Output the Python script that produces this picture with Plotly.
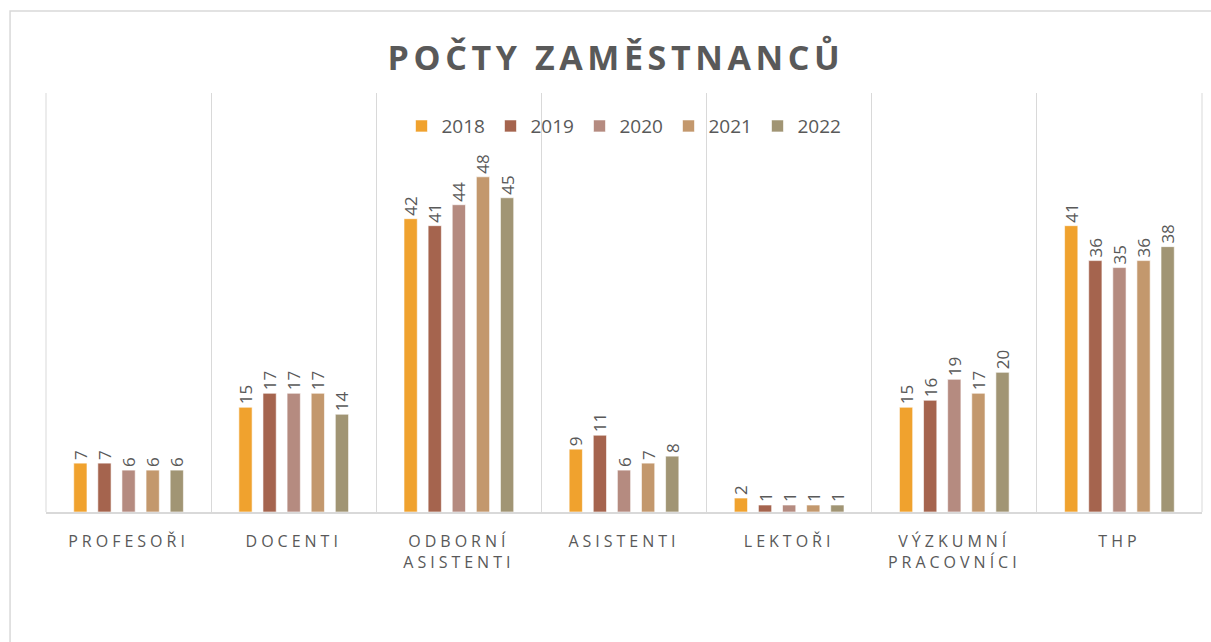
import plotly.graph_objects as go

categories = ["PROFESOŘI", "DOCENTI", "ODBORNÍ<br>ASISTENTI", "ASISTENTI", "LEKTOŘI",
              "VÝZKUMNÍ<br>PRACOVNÍCI", "THP"]
years = ["2018", "2019", "2020", "2021", "2022"]
v2018 = [7, 15, 42, 9, 2, 15, 41]
v2019 = [7, 17, 41, 11, 1, 16, 36]
v2020 = [6, 17, 44, 6, 1, 19, 35]
v2021 = [6, 17, 48, 7, 1, 17, 36]
v2022 = [6, 14, 45, 8, 1, 20, 38]
series = [v2018, v2019, v2020, v2021, v2022]
colors = ["#F0A22E", "#A5644E", "#B58B80", "#C3986D", "#A19574"]

TXT = "#595959"
GRID = "#D9D9D9"

fig = go.Figure()
for name, vals, col in zip(years, series, colors):
    fig.add_trace(go.Bar(
        name=name, x=categories, y=vals,
        marker=dict(color=col, line=dict(color="rgba(255,255,255,0.6)", width=1)),
        text=[str(v) for v in vals], textposition="outside", textangle=-90,
        constraintext="none",
        textfont=dict(family="Open Sans", size=17, color=TXT),
        cliponaxis=False,
    ))

fig.update_layout(
    width=1211, height=642,
    margin=dict(l=46, r=9, t=93, b=130),
    paper_bgcolor="white", plot_bgcolor="white",
    barmode="group", bargap=0.27, bargroupgap=0.45,
    title=dict(text="<b>POČTY ZAMĚSTNANCŮ</b>", x=0.5086, xanchor="center",
               y=0.91, yanchor="middle",
               font=dict(family="Open Sans", size=34, color=TXT)),
    legend=dict(orientation="h", x=0.5, xanchor="center", y=0.921, yanchor="middle",
                bgcolor="rgba(0,0,0,0)", font=dict(family="Open Sans", size=19, color=TXT),
                entrywidth=44, traceorder="normal", itemclick=False),
    xaxis=dict(type="category", tickson="boundaries", showgrid=True, gridcolor=GRID,
               gridwidth=1, showline=True, linecolor=GRID, linewidth=1.5,
               ticks="", ticklabelstandoff=14,
               tickfont=dict(family="Open Sans", size=16, color=TXT), fixedrange=True),
    yaxis=dict(range=[0, 60], visible=False, showgrid=False, zeroline=False, fixedrange=True),
    showlegend=True,
    shapes=[
        dict(type="rect", xref="paper", yref="paper",
             x0=-0.0311, x1=1.2, y0=-0.5, y1=1.1957,
             line=dict(color=GRID, width=1.5), fillcolor="rgba(0,0,0,0)", layer="below"),
        dict(type="line", xref="paper", yref="paper", x0=0, x1=0, y0=0, y1=1,
             line=dict(color=GRID, width=1), layer="below"),
        dict(type="line", xref="paper", yref="paper", x0=1, x1=1, y0=0, y1=1,
             line=dict(color=GRID, width=1), layer="below"),
    ],
)

post = """
function sp(){
 document.querySelectorAll('.gtitle').forEach(function(e){e.style.letterSpacing='4.6px';});
 document.querySelectorAll('.xtick text').forEach(function(e){e.style.letterSpacing='4px';});
}
sp();
var gd=document.getElementsByClassName('plotly-graph-div')[0];
gd.on('plotly_afterplot', sp);
"""
fig.write_html("out.html", post_script=post)
